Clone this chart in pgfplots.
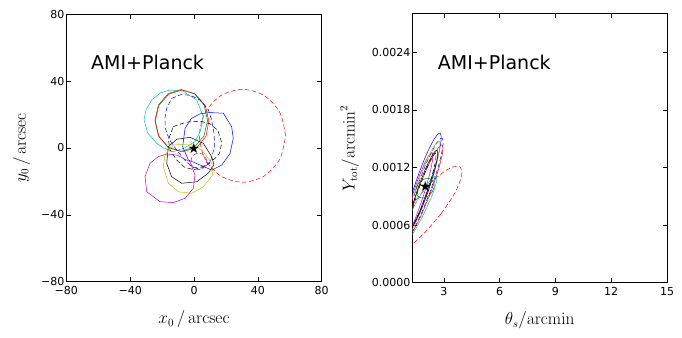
\documentclass[border=0pt]{standalone}
\usepackage[no-math]{fontspec}
\setmainfont{DejaVu Sans}
\usepackage{pgfplots}
\pgfplotsset{compat=1.18}

\definecolor{mb}{rgb}{0,0,1}
\definecolor{mg}{rgb}{0,0.5,0}
\definecolor{mr}{rgb}{1,0,0}
\definecolor{mc}{rgb}{0,0.75,0.75}
\definecolor{mm}{rgb}{0.75,0,0.75}
\definecolor{my}{rgb}{0.75,0.75,0}

\pgfplotsset{
  mpl/.style={
    scale only axis, anchor=south west,
    axis line style={line width=1pt},
    tick align=inside, tick pos=both,
    major tick length=4.5pt,
    every tick/.style={black, line width=0.6pt},
    ticklabel style={font=\fontsize{11}{13}\selectfont},
    xticklabel style={yshift=-1.5pt},
    yticklabel style={xshift=1.5pt},
    label style={font=\fontsize{16}{18}\selectfont},
    xlabel style={yshift=-9pt},
    scaled ticks=false,
    clip=true,
  },
  cl/.style={line width=0.5pt},
  dl/.style={line width=0.5pt, dash pattern=on 4.5pt off 2.5pt},
  star/.style={only marks, mark=text, text mark={\fontsize{14}{14}\selectfont ★}},
}

\begin{document}
\begin{tikzpicture}
\useasboundingbox (0,0) rectangle (682pt,337pt);

% left panel: position
\begin{axis}[mpl, at={(66.3pt,55.3pt)}, width=255.4pt, height=267.4pt,
  xmin=-80, xmax=80, ymin=-80, ymax=80,
  xtick={-80,-40,0,40,80}, xticklabels={−80,−40,0,40,80},
  ytick={-80,-40,0,40,80}, yticklabels={−80,−40,0,40,80},
  ylabel style={yshift=4pt},
  xlabel={$x_0\,/\,\mathrm{arcsec}$}, ylabel={$y_0\,/\,\mathrm{arcsec}$}]
\addplot[mr, dl, smooth] coordinates {(57.4,7.3) (53.8,21.2) (43.9,31.4) (30.4,35.1) (16.9,31.4) (7.0,21.2) (3.4,7.3) (7.0,-6.6) (16.9,-16.8) (30.4,-20.5) (43.9,-16.8) (53.8,-6.6) (57.4,7.3)};
\addplot[mc, cl] coordinates {(-15,34.7) (-7,34) (1.7,28.7) (5.8,18.8) (4,10) (0.6,3.8) (-6,0) (-13,-2.2) (-19,0) (-23.4,2.8) (-29,9) (-31.3,16.8) (-30,23) (-26.5,28.7) (-21,33) (-15,34.7)};
\addplot[mg, cl] coordinates {(8.5,16.5) (6.3,25.75) (0.25,32.5) (-8,35) (-16.25,32.5) (-22.3,25.75) (-24.5,16.5) (-22.3,7.25) (-16.25,0.5) (-8,-2) (0.25,0.5) (6.3,7.25) (8.5,16.5)};
\addplot[mr, cl] coordinates {(9.3,16.2) (7.0,25.45) (0.9,32.2) (-7.5,34.7) (-15.9,32.2) (-22,25.45) (-24.3,16.2) (-22,6.95) (-15.9,0.2) (-7.5,-2.3) (2,0.5) (7.5,7) (9.3,16.2)};
\addplot[mb, dl] coordinates {(-14,29.7) (-8,32) (-2,31.5) (4,28.5) (9,23) (11,17) (12.5,9) (13,1) (10,-9) (5,-12) (-1,-11.5) (-6,-7) (-11,-1) (-15.5,5) (-18,12) (-18.2,18) (-17,24) (-14,29.7)};
\addplot[mb, cl] coordinates {(-5.6,11.8) (-1.5,17.8) (4,20.5) (10,21.2) (18.4,20.8) (23.6,12.7) (24.6,5.8) (22.6,-3.2) (17.4,-10.2) (11.1,-13.2) (3.8,-10.2) (-3.5,-7.2) (-7.1,0.8) (-5.6,11.8)};
\addplot[black, dl] coordinates {(-13,12.8) (-4.6,15.5) (4,16) (10,14.5) (15,10.5) (17.4,3) (16,-3) (13.2,-6.2) (7,-10.5) (0,-13) (-6,-11.5) (-11,-7) (-15,-1.2) (-16,5) (-13,12.8)};
\addplot[black, cl] coordinates {(-16.1,0.8) (-10.8,5.2) (-2.5,6.4) (5.8,2.8) (11.1,-5.2) (12.5,-10) (9,-15) (1.7,-20.2) (-7.7,-21.1) (-14,-17.2) (-17.1,-9.2) (-16.1,0.8)};
\addplot[my, cl] coordinates {(-13,1.8) (-2.5,2.4) (4.9,-1.2) (11.1,-9.2) (11.7,-16.2) (5.8,-23.2) (-1.4,-27.1) (-9.8,-26.2) (-16.1,-21.1) (-19.2,-11.2) (-18.2,-4.2) (-13,1.8)};
\addplot[mm, cl] coordinates {(-22.4,-5.2) (-27.6,-9.2) (-30.7,-17.2) (-29.6,-26.2) (-21.3,-32.1) (-13,-32.7) (-5.6,-30.1) (-0.4,-24.1) (0.6,-16.2) (-2.5,-8.2) (-10.8,-4.2) (-17.1,-3.6) (-22.4,-5.2)};
\addplot[mm, dl] coordinates {(8,-8) (7.3,-5.5) (5.5,-3.7) (3,-3) (0.5,-3.7) (-1.3,-5.5) (-2,-8) (-1.3,-10.5) (0.5,-12.3) (3,-13) (5.5,-12.3) (7.3,-10.5) (8,-8)};
\addplot[star] coordinates {(0,0)};
\node[anchor=base west, inner sep=0pt, font=\fontsize{19}{22}\selectfont] at (rel axis cs:0.0967,0.794) {AMI+Planck};
\end{axis}

% right panel: size and flux
\begin{axis}[mpl, at={(412.3pt,54.3pt)}, width=254.7pt, height=268.7pt,
  xmin=1.3, xmax=15, ymin=0, ymax=0.0028,
  xtick={3,6,9,12,15}, xticklabels={3,6,9,12,15},
  ytick={0,0.0006,0.0012,0.0018,0.0024}, yticklabels={0.0000,0.0006,0.0012,0.0018,0.0024},
  ylabel style={yshift=6pt},
  xlabel={$\theta_s/\mathrm{arcmin}$}, ylabel={$Y_{\mathrm{tot}}/\mathrm{arcmin}^2$}]
\addplot[mr, dl, smooth] coordinates {(2.845,0.000718) (1.958,0.000520) (1.10,0.000370) (0.6,0.00034) (0.558,0.000511) (0.932,0.000690) (1.661,0.000900) (2.548,0.001086) (3.356,0.001197) (3.868,0.001205) (3.948,0.001107) (3.574,0.000929) (2.845,0.000718)};
\addplot[mc, cl, smooth] coordinates {(1.898,0.000708) (1.374,0.000524) (0.914,0.000397) (0.638,0.000361) (0.622,0.000425) (0.870,0.000573) (1.316,0.000764) (1.840,0.000948) (2.300,0.001075) (2.576,0.001111) (2.592,0.001047) (2.344,0.000899) (1.898,0.000708)};
\addplot[mm, cl, smooth] coordinates {(1.876,0.000891) (1.463,0.000670) (1.089,0.000512) (0.853,0.000461) (0.819,0.000530) (0.997,0.000700) (1.338,0.000927) (1.751,0.001148) (2.125,0.001306) (2.361,0.001357) (2.395,0.001288) (2.217,0.001118) (1.876,0.000891)};
\addplot[mb, cl, smooth] coordinates {(2.204,0.001004) (1.685,0.000741) (1.211,0.000556) (0.907,0.000497) (0.855,0.000580) (1.071,0.000783) (1.494,0.001052) (2.013,0.001315) (2.487,0.001500) (2.791,0.001559) (2.843,0.001476) (2.627,0.001273) (2.204,0.001004)};
\addplot[mb, dl, smooth] coordinates {(2.285,0.000962) (1.752,0.000704) (1.269,0.000523) (0.961,0.000465) (0.913,0.000547) (1.138,0.000746) (1.575,0.001010) (2.108,0.001268) (2.591,0.001449) (2.899,0.001507) (2.947,0.001425) (2.722,0.001226) (2.285,0.000962)};
\addplot[mr, cl, smooth] coordinates {(2.253,0.000922) (1.725,0.000680) (1.253,0.000510) (0.961,0.000455) (0.929,0.000533) (1.165,0.000720) (1.607,0.000968) (2.135,0.001210) (2.607,0.001381) (2.899,0.001435) (2.931,0.001358) (2.695,0.001170) (2.253,0.000922)};
\addplot[my, cl, smooth] coordinates {(2.145,0.000944) (1.644,0.000692) (1.192,0.000513) (0.907,0.000456) (0.868,0.000535) (1.084,0.000730) (1.499,0.000988) (2.000,0.001240) (2.452,0.001419) (2.737,0.001476) (2.776,0.001397) (2.560,0.001202) (2.145,0.000944)};
\addplot[black, cl, smooth] coordinates {(2.145,0.000948) (1.732,0.000742) (1.358,0.000596) (1.122,0.000549) (1.088,0.000614) (1.266,0.000772) (1.607,0.000984) (2.020,0.001190) (2.394,0.001336) (2.630,0.001383) (2.664,0.001318) (2.486,0.001160) (2.145,0.000948)};
\addplot[black, dl, smooth] coordinates {(2.07,0.000935) (1.691,0.000737) (1.354,0.000597) (1.15,0.00055) (1.134,0.000612) (1.309,0.000763) (1.63,0.000965) (2.009,0.001163) (2.346,0.001304) (2.55,0.00135) (2.566,0.001289) (2.391,0.001137) (2.07,0.000935)};
\addplot[mg, cl, smooth] coordinates {(2.361,0.000943) (2.149,0.000902) (1.893,0.000883) (1.661,0.000891) (1.516,0.000925) (1.497,0.000974) (1.607,0.001027) (1.820,0.001068) (2.076,0.001087) (2.307,0.001079) (2.453,0.001045) (2.472,0.000996) (2.361,0.000943)};
\addplot[star] coordinates {(2.0,0.001)};
\node[anchor=base west, inner sep=0pt, font=\fontsize{19}{22}\selectfont] at (rel axis cs:0.0997,0.794) {AMI+Planck};
\end{axis}
\end{tikzpicture}
\end{document}
